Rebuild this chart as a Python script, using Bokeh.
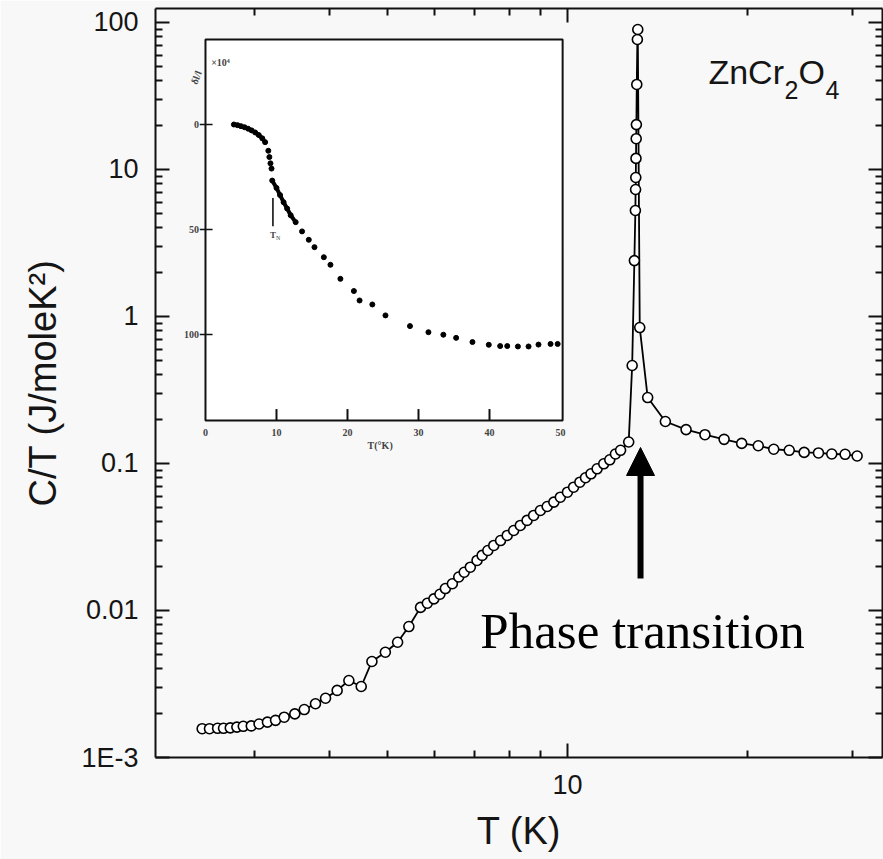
import math
from bokeh.plotting import figure
from bokeh.models import (LogAxis, FixedTicker, Range1d, LinearScale, Arrow,
                          NormalHead, Label, ColumnDataSource)
from bokeh.embed import file_html
from bokeh.resources import INLINE

# ---------------- main data: specific heat C/T vs T (ZnCr2O4) ----------------
T_K = [2.45, 2.52, 2.60, 2.66, 2.73, 2.80, 2.87, 2.96,
       3.05, 3.15, 3.25, 3.36, 3.50, 3.63, 3.79, 3.94,
       4.12, 4.31, 4.52, 4.71, 4.96,
       5.20, 5.43, 5.68, 5.83, 5.98,
       6.12, 6.25, 6.42, 6.58, 6.72, 6.88,
       7.06, 7.20, 7.36, 7.53, 7.73, 7.93,
       8.13, 8.34, 8.56, 8.78,
       9.01, 9.25, 9.49, 9.73,
       10.00, 10.24, 10.49, 10.72, 10.95,
       11.21, 11.50, 11.77,
       12.03, 12.27, 12.66, 12.83, 12.94, 12.99,
       13.00, 13.01, 13.02, 13.03, 13.04, 13.06, 13.09, 13.11, 13.21, 13.62,
       14.58, 15.79, 16.98, 18.28, 19.56,
       20.85, 22.13, 23.49, 24.88, 26.29, 27.67, 29.13, 30.51]
C_OVER_T = [0.00157, 0.00157, 0.00158, 0.00158, 0.00159, 0.00161, 0.00163, 0.00164,
            0.00169, 0.00174, 0.00179, 0.00188, 0.00198, 0.00212, 0.00232, 0.00253,
            0.00286, 0.00334, 0.00304, 0.00450, 0.00520,
            0.00608, 0.00778, 0.0105, 0.0112, 0.0120,
            0.0129, 0.0141, 0.0152, 0.0169, 0.0182, 0.0197,
            0.0219, 0.0237, 0.0256, 0.0277, 0.0299, 0.0324,
            0.0350, 0.0379, 0.0410, 0.0443,
            0.0479, 0.0510, 0.0546, 0.0590,
            0.0638, 0.0690, 0.0746, 0.0800, 0.0851,
            0.0920, 0.0995, 0.106,
            0.116, 0.123, 0.140, 0.464, 2.40, 5.26,
            7.31, 8.82, 11.9, 16.2, 20.2, 37.9, 76.6, 89.6, 0.841, 0.281,
            0.193, 0.170, 0.157, 0.146, 0.137,
            0.132, 0.125, 0.123, 0.119, 0.118, 0.116, 0.1155, 0.1125]

X_MAJOR_TICKS = [10]
X_TICK_LABELS = ["10"]
X_MINOR_TICKS = [3, 4, 5, 6, 7, 8, 9, 20, 30]
Y_MAJOR_TICKS = [0.001, 0.01, 0.1, 1, 10, 100]
Y_TICK_LABELS = ["1E-3", "0.01", "0.1", "1", "10", "100"]
Y_MINOR_TICKS = [m * 10.0 ** e for e in range(-3, 3) for m in range(2, 10)]

# ---------------- inset data: thermal expansion dl/l (x10^4) vs T ----------------
INSET_T_CURVE1 = [4.0, 4.5, 5.0, 5.5, 6.0, 6.5, 7.0, 7.5, 8.0, 8.4]
INSET_DL_CURVE1 = [0.0, 0.3, 0.8, 1.3, 2.0, 2.8, 3.8, 5.0, 6.6, 8.4]
INSET_T_STEP = [8.85, 9.0, 9.15, 9.3]
INSET_DL_STEP = [12.5, 15.5, 18.5, 21.0]
INSET_T_CURVE2 = [9.4, 10.0, 10.5, 11.0, 11.5, 12.0, 12.7]
INSET_DL_CURVE2 = [26.7, 30.2, 33.6, 37.0, 40.0, 43.2, 46.5]
INSET_T_DOTS = [13.6, 14.55, 15.35, 16.67, 17.6, 19.0, 20.9, 21.7, 23.5, 25.35, 28.8,
                31.4, 33.5, 35.3, 37.6, 39.9, 41.5, 42.5, 44.0, 45.5, 46.9, 48.6, 49.6]
INSET_DL_DOTS = [50.9, 54.9, 58.4, 63.2, 66.8, 73.5, 79.3, 83.8, 85.7, 90.9, 96.0,
                 98.9, 100.1, 101.6, 103.6, 104.9, 105.5, 105.5, 105.7, 105.7, 104.8, 104.5, 104.5]
INSET_X_TICKS = [0, 10, 20, 30, 40, 50]
INSET_X_LABELS = ["0", "10", "20", "30", "40", "50"]
INSET_Y_TICKS = [0, 50, 100]
INSET_Y_LABELS = ["0", "50", "100"]
INSET_TN = 9.5

# ---------------- figure ----------------
W, H = 883, 859
BG = "#f8f8f8"
p = figure(width=W, height=H, x_axis_type="log", y_axis_type="log",
           x_range=Range1d(2.047, 33.64), y_range=Range1d(1e-3, 124.5),
           output_backend="svg", toolbar_location=None,
           min_border_left=155, min_border_right=1, min_border_top=8, min_border_bottom=102,
           background_fill_color=BG, border_fill_color=BG)
p.grid.visible = False
p.outline_line_color = None

top_axis = LogAxis()
right_axis = LogAxis()
p.add_layout(top_axis, "above")
p.add_layout(right_axis, "right")

for ax in p.xaxis:
    ax.ticker = FixedTicker(ticks=X_MAJOR_TICKS, minor_ticks=X_MINOR_TICKS)
for ax in p.yaxis:
    ax.ticker = FixedTicker(ticks=Y_MAJOR_TICKS, minor_ticks=Y_MINOR_TICKS)
for ax in p.axis:
    ax.axis_line_width = 2
    ax.axis_line_color = "#111111"
    ax.major_tick_in = 14
    ax.major_tick_out = 0
    ax.minor_tick_in = 7
    ax.minor_tick_out = 0
    ax.major_tick_line_width = 2
    ax.minor_tick_line_width = 2
    ax.major_tick_line_color = "#111111"
    ax.minor_tick_line_color = "#111111"
    ax.major_label_text_font = "Liberation Sans"
    ax.major_label_text_font_size = "27px"
    ax.major_label_text_color = "#151515"
    ax.major_label_standoff = 17

bottom_axis = p.below[0]
left_axis = p.left[0]
bottom_axis.major_label_overrides = dict(zip(X_MAJOR_TICKS, X_TICK_LABELS))
left_axis.major_label_overrides = dict(zip(Y_MAJOR_TICKS, Y_TICK_LABELS))
for ax in (top_axis, right_axis):
    ax.major_label_text_font_size = "1px"
    ax.major_label_text_alpha = 0
    ax.major_label_standoff = 0

bottom_axis.axis_label = "T (K)"
left_axis.axis_label = "C/T (J/moleK²)"
for ax, fs, so in ((bottom_axis, "38px", 13), (left_axis, "38px", 14)):
    ax.axis_label_text_font = "Liberation Sans"
    ax.axis_label_text_font_size = fs
    ax.axis_label_text_font_style = "normal"
    ax.axis_label_text_color = "#151515"
    ax.axis_label_standoff = so

# main series
src = ColumnDataSource(dict(t=T_K, c=C_OVER_T))
p.line("t", "c", source=src, line_color="black", line_width=1.8)
p.scatter("t", "c", source=src, size=10, fill_color="white",
          line_color="black", line_width=1.6)

# arrow marking the transition
p.add_layout(Arrow(end=NormalHead(size=28, fill_color="black", line_color="black", line_width=1),
                   x_start=13.25, y_start=0.0165, x_end=13.25, y_end=0.1285,
                   line_width=6, line_color="black"))
p.add_layout(Label(x=13.35, y=0.0072, text="Phase transition", text_font="Liberation Serif",
                   text_font_size="51px", text_align="center", text_baseline="alphabetic",
                   text_color="black"))

# compound name with subscripts
for tx, ty, txt, fs in [(17.21, 45.7, "ZnCr", "34px"), (23.07, 34.5, "2", "25px"),
                        (24.34, 45.7, "O", "34px"), (27.01, 34.5, "4", "25px")]:
    p.add_layout(Label(x=tx, y=ty, text=txt, text_font="Liberation Sans", text_font_size=fs,
                       text_align="left", text_baseline="alphabetic", text_color="#151515"))

# ---------------- inset (linear coordinates) ----------------
p.extra_x_ranges = {"ix": Range1d(-7.04, 95.35)}
p.extra_y_ranges = {"iy": Range1d(301.43, -55.24)}
p.extra_x_scales = {"ix": LinearScale()}
p.extra_y_scales = {"iy": LinearScale()}
IR = dict(x_range_name="ix", y_range_name="iy")

p.quad(left=[0], right=[50.3], top=[-40.5], bottom=[141], fill_color="white",
       line_color="#111111", line_width=2, **IR)
bx = INSET_X_TICKS[1:-1]
p.segment(x0=bx, y0=[141] * len(bx), x1=bx, y1=[135.5] * len(bx),
          line_color="#111111", line_width=2, **IR)
p.segment(x0=[-0.8] * len(INSET_Y_TICKS), y0=INSET_Y_TICKS, x1=[1.0] * len(INSET_Y_TICKS),
          y1=INSET_Y_TICKS, line_color="#111111", line_width=1.5, **IR)
for xv, lab in zip(INSET_X_TICKS, INSET_X_LABELS):
    p.add_layout(Label(x=xv, y=146.5, text=lab, text_font="Liberation Serif", text_font_style="bold",
                       text_font_size="10px", text_align="center", text_baseline="middle", **IR))
for yv, lab in zip(INSET_Y_TICKS, INSET_Y_LABELS):
    p.add_layout(Label(x=-0.9, y=yv, text=lab, text_font="Liberation Serif", text_font_style="bold",
                       text_font_size="10px", text_align="right", text_baseline="middle", **IR))
p.add_layout(Label(x=24.6, y=153, text="T(°K)", text_font="Liberation Serif", text_font_style="bold",
                   text_font_size="10px", text_align="center", text_baseline="middle", **IR))
p.add_layout(Label(x=0.8, y=-29.5, text="×10⁴", text_font="Liberation Serif", text_font_style="bold",
                   text_font_size="10px", text_align="left", text_baseline="middle", **IR))
p.add_layout(Label(x=-1.3, y=-22.4, text="δl/l", text_font="Liberation Serif", text_font_style="bold",
                   text_font_size="10px", text_align="center", text_baseline="middle",
                   angle=1.2, **IR))

p.line(INSET_T_CURVE1, INSET_DL_CURVE1, line_color="black", line_width=4, **IR)
p.line(INSET_T_CURVE2, INSET_DL_CURVE2, line_color="black", line_width=4, **IR)
p.scatter(INSET_T_CURVE1 + INSET_T_STEP + INSET_T_CURVE2 + INSET_T_DOTS,
          INSET_DL_CURVE1 + INSET_DL_STEP + INSET_DL_CURVE2 + INSET_DL_DOTS,
          size=5, fill_color="black", line_color="black", **IR)
p.segment(x0=[INSET_TN], y0=[35], x1=[INSET_TN], y1=[48.5], line_color="black", line_width=1.5, **IR)
p.add_layout(Label(x=INSET_TN, y=52.5, text="T", text_font="Liberation Serif", text_font_style="bold",
                   text_font_size="9px", text_align="center", text_baseline="middle", **IR))
p.add_layout(Label(x=INSET_TN + 0.75, y=54.0, text="N", text_font="Liberation Serif",
                   text_font_size="6px", text_align="center", text_baseline="middle", **IR))

open("out.html", "w").write(file_html(p, INLINE))
